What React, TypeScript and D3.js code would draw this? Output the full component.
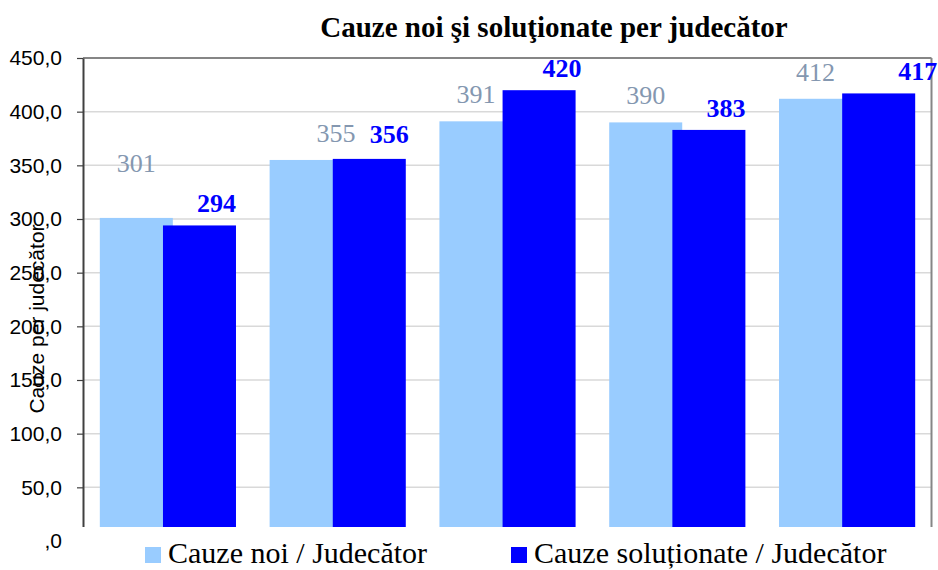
import * as d3 from "d3";
import { useEffect, useRef } from "react";

const categories = ["1", "2", "3", "4", "5"];
const cauzeNoi = [301, 355, 391, 390, 412];
const cauzeSolutionate = [294, 356, 420, 383, 417];
const yTicks = [0, 50, 100, 150, 200, 250, 300, 350, 400, 450];
const seriesNames = ["Cauze noi / Judecător", "Cauze soluționate / Judecător"];

export default function App() {
    const ref = useRef<SVGSVGElement>(null);

    useEffect(() => {
        const svg = d3.select(ref.current);
        svg.selectAll("*").remove();

        const width = 938;
        const height = 570;
        const margin = { top: 58, right: 6, bottom: 29, left: 83 };

        svg.attr("width", width).attr("height", height);

        const x = d3
            .scaleBand()
            .domain(categories)
            .range([margin.left, width - margin.right]);

        const y = d3
            .scaleLinear()
            .domain([0, 450])
            .range([height - margin.bottom, margin.top]);

        const fmt = (v: number) => (v === 0 ? ",0" : v.toFixed(1).replace(".", ","));

        // gridlines
        svg.append("g")
            .selectAll("line")
            .data(yTicks.filter(t => t > 0 && t < 450))
            .join("line")
            .attr("x1", margin.left)
            .attr("x2", width - margin.right)
            .attr("y1", d => y(d))
            .attr("y2", d => y(d))
            .attr("stroke", "#d9d9d9")
            .attr("stroke-width", 1.5);

        // bars: two series with a small overlap
        const barW = x.bandwidth() * 0.43;
        const shift = barW * 0.865;
        const groupLeft = (c: string) => x(c)! + (x.bandwidth() - barW - shift) / 2;

        const series = [
            { values: cauzeNoi, color: "#99ccff", off: 0 },
            { values: cauzeSolutionate, color: "#0000ff", off: shift },
        ];

        series.forEach(s => {
            svg.append("g")
                .selectAll("rect")
                .data(categories)
                .join("rect")
                .attr("x", (c) => groupLeft(c) + s.off)
                .attr("y", (c, i) => y(s.values[i]))
                .attr("width", barW)
                .attr("height", (c, i) => y(0) - y(s.values[i]))
                .attr("fill", s.color);
        });

        // frame: top + right borders, left axis
        svg.append("line")
            .attr("x1", margin.left).attr("x2", width - margin.right - 0.5)
            .attr("y1", margin.top).attr("y2", margin.top)
            .attr("stroke", "#868686").attr("stroke-width", 2);
        svg.append("line")
            .attr("x1", width - margin.right - 0.5).attr("x2", width - margin.right - 0.5)
            .attr("y1", margin.top).attr("y2", height - margin.bottom)
            .attr("stroke", "#868686").attr("stroke-width", 2);

        const axis = svg.append("g")
            .attr("transform", `translate(${margin.left},0)`)
            .call(d3.axisLeft(y).tickValues(yTicks).tickSize(6).tickSizeOuter(0).tickFormat(d => fmt(+d)));
        axis.select(".domain").attr("stroke", "#404040").attr("stroke-width", 2);
        axis.selectAll(".tick line").attr("stroke", "#404040").attr("stroke-width", 1.2);
        axis.selectAll(".tick text")
            .attr("x", -21)
            .attr("fill", "#000")
            .style("font-family", "Arial, 'Liberation Sans', sans-serif")
            .style("font-size", "21px");

        // data labels (placed by hand in the original, hence the nudges)
        const nudgeNoi = [[0, -28], [30, 0], [0, 0], [0, 0], [0, 0]];
        const nudgeSol = [[-3, 0], [0, -3], [3, 0], [-3, 0], [19, 0]];

        svg.append("g")
            .selectAll("text")
            .data(categories)
            .join("text")
            .attr("x", (c, i) => groupLeft(c) + barW / 2 + nudgeNoi[i][0])
            .attr("y", (c, i) => y(cauzeNoi[i]) - 18 + nudgeNoi[i][1])
            .attr("text-anchor", "middle")
            .attr("fill", "#8497b0")
            .style("font-family", "'Liberation Serif', 'Times New Roman', serif")
            .style("font-size", "26px")
            .text((c, i) => cauzeNoi[i]);

        svg.append("g")
            .selectAll("text")
            .data(categories)
            .join("text")
            .attr("x", (c, i) => groupLeft(c) + shift + barW / 2 + 20 + nudgeSol[i][0])
            .attr("y", (c, i) => y(cauzeSolutionate[i]) - 13 + nudgeSol[i][1])
            .attr("text-anchor", "middle")
            .attr("fill", "#0000ff")
            .style("font-family", "'Liberation Serif', 'Times New Roman', serif")
            .style("font-size", "26px")
            .style("font-weight", "bold")
            .text((c, i) => cauzeSolutionate[i]);

        // legend box sits over the bottom of the plot area
        svg.append("rect")
            .attr("x", 75)
            .attr("y", height - margin.bottom - 14)
            .attr("width", width - 75)
            .attr("height", 60)
            .attr("fill", "#fff");

        const legendX = [145, 511];
        const lg = svg.append("g")
            .selectAll("g")
            .data(seriesNames)
            .join("g")
            .attr("transform", (d, i) => `translate(${legendX[i]},547)`);
        lg.append("rect")
            .attr("width", 16)
            .attr("height", 16)
            .attr("fill", (d, i) => series[i].color);
        lg.append("text")
            .attr("x", 23)
            .attr("y", 16)
            .attr("fill", "#000")
            .style("font-family", "'Liberation Serif', 'Times New Roman', serif")
            .style("font-size", "30px")
            .text(d => d);

        // titles
        svg.append("text")
            .attr("x", 554)
            .attr("y", 37)
            .attr("text-anchor", "middle")
            .attr("fill", "#000")
            .style("font-family", "'Liberation Serif', 'Times New Roman', serif")
            .style("font-size", "29px")
            .style("font-weight", "bold")
            .text("Cauze noi şi soluţionate per judecător");

        svg.append("text")
            .attr("transform", "translate(44,319) rotate(-90)")
            .attr("text-anchor", "middle")
            .attr("fill", "#000")
            .style("font-family", "Arial, 'Liberation Sans', sans-serif")
            .style("font-size", "21px")
            .text("Cauze per judecător");
    }, []);

    return (
        <div style={{ position: "absolute", left: 0, top: 0, width: 938, height: 570, background: "#fff" }}>
            <svg ref={ref} style={{ display: "block" }}></svg>
        </div>
    );
}
